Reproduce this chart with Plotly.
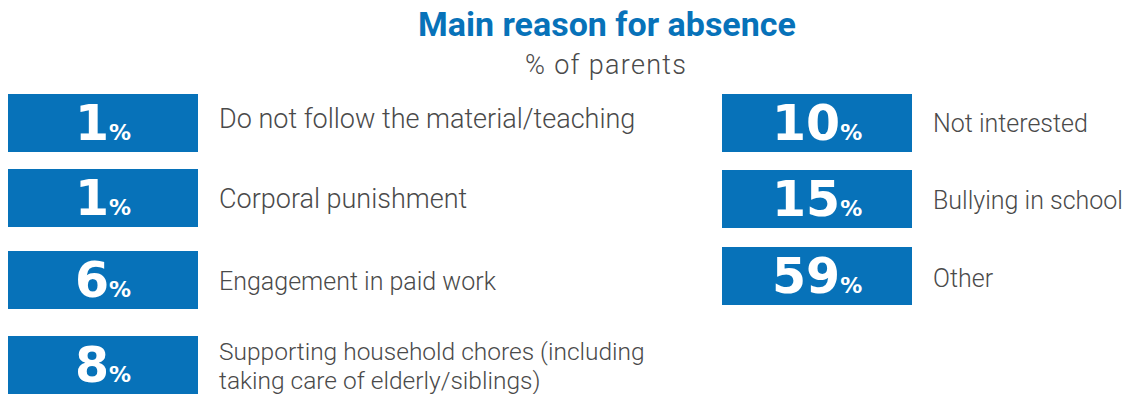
import plotly.graph_objects as go

# Survey results: main reason for absence, % of parents
left_labels = [
    "Do not follow the material/teaching",
    "Corporal punishment",
    "Engagement in paid work",
    "Supporting household chores (including<br>taking care of elderly/siblings)",
]
left_values = [1, 1, 6, 8]

right_labels = ["Not interested", "Bullying in school", "Other"]
right_values = [10, 15, 59]

title_text = "Main reason for absence"
subtitle_text = "% of parents"

# Layout constants (pixel canvas)
W, H = 1125, 394
BLUE = "#0772B9"
GREY = "#4a4a4a"
BOX_W, BOX_H = 190, 58
LEFT_X0, RIGHT_X0 = 8, 722
LABEL_GAP = 19
LEFT_TOPS = [94, 169, 251, 336]
RIGHT_TOPS = [94, 170, 247]
LEFT_LABEL_SIZES = [27, 27, 25, 24.5]
RIGHT_LABEL_SIZES = [25, 25, 25]
LEFT_LABEL_DY = [-4, 1, 1, 1]
RIGHT_LABEL_DY = [0, 1, 2]
LINE_H = 29

fig = go.Figure()
shapes, annotations = [], []


def add_column(values, labels, sizes, dys, x0, tops):
    for v, lab, size, dy, top in zip(values, labels, sizes, dys, tops):
        cy = top + BOX_H / 2
        shapes.append(dict(
            type="rect", xref="x", yref="y",
            x0=x0, x1=x0 + BOX_W, y0=top, y1=top + BOX_H,
            fillcolor=BLUE, line=dict(width=0), layer="below",
        ))
        annotations.append(dict(
            x=x0 + BOX_W / 2, y=cy, xref="x", yref="y",
            text=f"<b>{v}</b><span style='font-size:22px'><b>%</b></span>",
            showarrow=False, xanchor="center", yanchor="middle",
            font=dict(family="DejaVu Sans, sans-serif", size=49, color="white"),
        ))
        lines = lab.split("<br>")
        n = len(lines)
        for i, line in enumerate(lines):
            annotations.append(dict(
                x=x0 + BOX_W + LABEL_GAP,
                y=cy + dy + (i - (n - 1) / 2) * LINE_H,
                xref="x", yref="y",
                text=line, showarrow=False, xanchor="left", yanchor="middle",
                font=dict(family="Roboto, sans-serif", size=size, color=GREY, weight=300),
            ))


add_column(left_values, left_labels, LEFT_LABEL_SIZES, LEFT_LABEL_DY, LEFT_X0, LEFT_TOPS)
add_column(right_values, right_labels, RIGHT_LABEL_SIZES, RIGHT_LABEL_DY, RIGHT_X0, RIGHT_TOPS)

annotations.append(dict(
    x=607, y=24, xref="x", yref="y", text=f"<b>{title_text}</b>",
    showarrow=False, xanchor="center", yanchor="middle",
    font=dict(family="Liberation Sans Narrow, Roboto, sans-serif", size=34, color=BLUE),
))
annotations.append(dict(
    x=606, y=65, xref="x", yref="y",
    text=f"<span style='letter-spacing:1.3px'>{subtitle_text}</span>",
    showarrow=False, xanchor="center", yanchor="middle",
    font=dict(family="Roboto, sans-serif", size=27, color=GREY, weight=300),
))

fig.update_layout(
    width=W, height=H,
    margin=dict(l=0, r=0, t=0, b=0),
    paper_bgcolor="white", plot_bgcolor="white",
    xaxis=dict(range=[0, W], visible=False, fixedrange=True),
    yaxis=dict(range=[H, 0], visible=False, fixedrange=True),
    shapes=shapes, annotations=annotations, showlegend=False,
)

fig.write_html("out.html")
